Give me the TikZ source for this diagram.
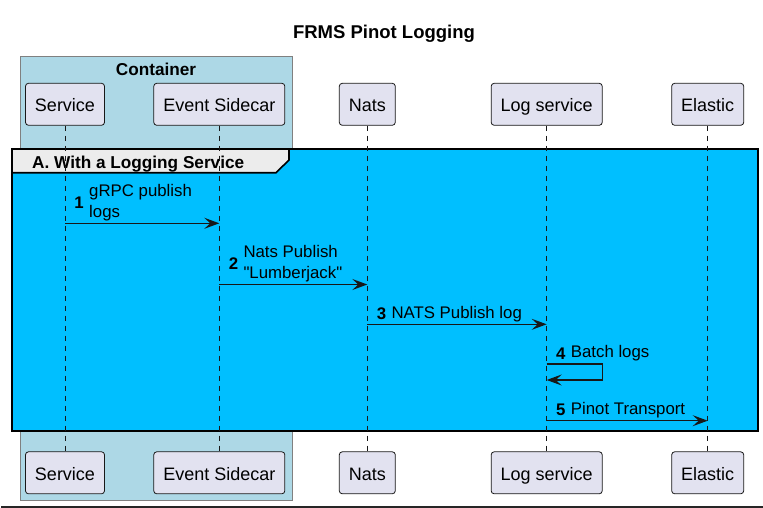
\documentclass[tikz,border=0pt]{standalone}
\usepackage{fontspec}
\setmainfont{Liberation Sans}
\usetikzlibrary{positioning, arrows.meta}
\definecolor{partfill}{HTML}{E2E2F0}
\definecolor{partline}{HTML}{181818}
\definecolor{boxblue}{HTML}{ADD8E6}
\definecolor{groupblue}{HTML}{00BFFF}
\tikzset{
part/.style={draw=partline, line width=0.8pt, fill=partfill, rounded corners=3pt, minimum height=42pt, inner xsep=9.5pt, text height=15pt, text depth=0pt, font=\fontsize{18}{21}\selectfont}, % participant boxes
life/.style={draw=partline, line width=0.8pt, dash pattern=on 5pt off 5pt}, % lifelines
msg/.style={draw=partline, line width=1.4pt, -{Stealth[length=15pt, width=11pt, inset=6pt]}}, % message arrows
lbl/.style={inner sep=0pt, align=left, font=\fontsize{16.8}{21}\selectfont}, % message texts
num/.style={inner sep=0pt, font=\bfseries\fontsize{16.8}{21}\selectfont}, % message numbers
}

\begin{document}
\begin{tikzpicture}[x=1pt, y=-1pt]
    \useasboundingbox (0,0) rectangle (763,508);
    \node[font=\bfseries\fontsize{18.5}{22}\selectfont] (title) at (384,33.5) {FRMS Pinot Logging};
    % container box
    \filldraw[fill=boxblue, draw=gray, line width=1pt] (20,57) rectangle (292,500);
    \node[font=\bfseries\fontsize{17.2}{20}\selectfont] (cont) at (156,69.5) {Container};
    % group
    \filldraw[fill=groupblue, draw=black, line width=2.2pt] (12,149) rectangle (758,431);
    \filldraw[fill=gray!15, draw=black, line width=1.6pt] (12,149) -- (289,149) -- (289,160) -- (276,172.7) -- (12,172.7) -- cycle;
    \node[anchor=west, inner sep=0pt, font=\bfseries\fontsize{17.2}{20}\selectfont] (grp) at (32,164) {A. With a Logging Service};
    % participants
    \node[part] (svcT) at (65,104.3) {Service};
    \node[part] (sideT) at (219.3,104.3) {Event Sidecar};
    \node[part] (natsT) at (367.3,104.3) {Nats};
    \node[part] (logT) at (546.7,104.3) {Log service};
    \node[part] (elasT) at (707.7,104.3) {Elastic};
    \node[part] (svcB) at (65,472.8) {Service};
    \node[part] (sideB) at (219.3,472.8) {Event Sidecar};
    \node[part] (natsB) at (367.3,472.8) {Nats};
    \node[part] (logB) at (546.7,472.8) {Log service};
    \node[part] (elasB) at (707.7,472.8) {Elastic};
    \draw[life] (svcT) -- (svcB);
    \draw[life] (sideT) -- (sideB);
    \draw[life] (natsT) -- (natsB);
    \draw[life] (logT) -- (logB);
    \draw[life] (elasT) -- (elasB);
    % messages
    \coordinate (m1) at (0,223.3);
    \coordinate (m2) at (0,284.5);
    \coordinate (m3) at (0,324.3);
    \coordinate (m4) at (0,364);
    \coordinate (m5) at (0,420.7);
    \draw[msg] (svcT |- m1) coordinate (s1) -- (sideT |- m1);
    \node[lbl, above right=2.4pt and 24pt of s1] (t1) {gRPC publish\\logs};
    \node[num, left=5pt of t1] (n1) {1};
    \draw[msg] (sideT |- m2) coordinate (s2) -- (natsT |- m2);
    \node[lbl, above right=2.4pt and 24pt of s2] (t2) {Nats Publish\\\textquotedbl Lumberjack\textquotedbl};
    \node[num, left=5pt of t2] (n2) {2};
    \draw[msg] (natsT |- m3) coordinate (s3) -- (logT |- m3);
    \node[lbl, above right=2.4pt and 24pt of s3] (t3) {NATS Publish log};
    \node[num, left=5pt of t3] (n3) {3};
    \draw[msg] (logT |- m4) coordinate (s4) -| ++(55.6,16) -- ++(-55.6,0);
    \node[lbl, above right=2.4pt and 24pt of s4] (t4) {Batch logs};
    \node[num, left=5pt of t4] (n4) {4};
    \draw[msg] (logT |- m5) coordinate (s5) -- (elasT |- m5);
    \node[lbl, above right=2.4pt and 24pt of s5] (t5) {Pinot Transport};
    \node[num, left=5pt of t5] (n5) {5};
    % bottom edge
    \draw[line width=1.5pt, black!85] (1,507) -- (763,507);
\end{tikzpicture}
\end{document}
